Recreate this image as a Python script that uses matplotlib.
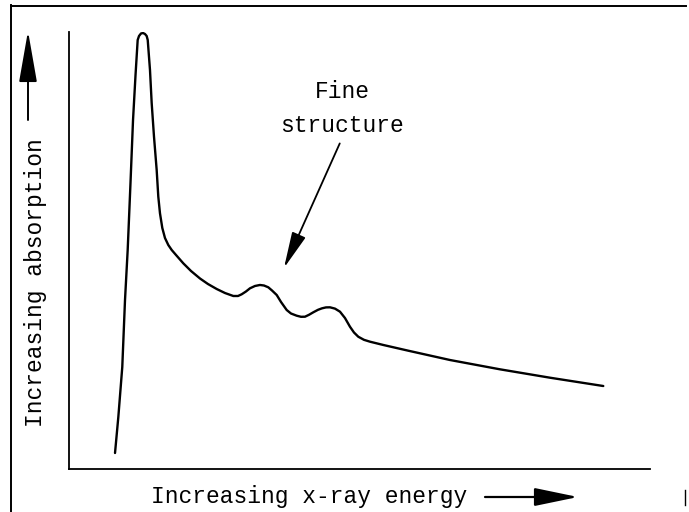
import matplotlib
matplotlib.use("Agg")
import matplotlib.pyplot as plt
from matplotlib.lines import Line2D
from matplotlib.patches import FancyArrowPatch

# ---- data (arbitrary units: energy 0-100, absorption 0-100) ----
energy = [7.92, 8.49, 9.17, 9.64, 10.10, 10.57, 11.02, 11.45, 11.82, 12.05, 12.39,
          12.74, 13.08, 13.37, 13.55, 13.94, 14.23, 14.63, 15.09, 15.37, 15.66,
          16.06, 16.52, 17.09, 17.68, 18.42, 19.67, 21.00, 22.55, 23.92, 25.42,
          26.85, 28.28, 29.09, 29.72, 30.46, 31.15, 32.01, 32.87, 33.56, 34.30,
          34.94, 35.75, 36.49, 37.47, 38.21, 39.19, 39.93, 40.62, 41.31, 42.05,
          42.86, 43.55, 44.23, 44.92, 45.78, 46.64, 47.50, 48.36, 49.05, 49.79,
          50.77, 51.81, 54.10, 58.40, 65.58, 74.18, 82.79, 91.96]
absorption = [3.66, 11.90, 23.34, 38.67, 50.11, 64.99, 79.86, 90.16, 98.17, 99.08,
              99.66, 99.77, 99.54, 99.08, 98.17, 91.30, 83.75, 76.04, 68.42, 62.31,
              58.51, 55.15, 52.86, 51.26, 50.11, 48.97, 47.07, 45.31, 43.59, 42.33,
              41.19, 40.27, 39.59, 39.59, 39.98, 40.62, 41.35, 41.88, 42.11, 41.99,
              41.58, 40.85, 39.82, 38.22, 36.38, 35.58, 35.08, 34.83, 34.85, 35.29,
              35.86, 36.43, 36.77, 36.98, 37.00, 36.70, 36.00, 34.55, 32.56, 31.24,
              30.27, 29.56, 29.13, 28.38, 27.07, 24.94, 22.81, 20.89, 18.99]

xlabel = "Increasing x-ray energy"
ylabel = "Increasing absorption"
annot_lines = ["Fine", "structure"]
annot_point = (37.0, 46.0)   # where the arrow points (energy, absorption)
annot_from = (46.6, 74.5)

W, H = 689, 512
fig = plt.figure(figsize=(W / 100, H / 100), dpi=100)
fig.patch.set_facecolor("white")

font = "Liberation Mono"
fs = 16.5

ax = fig.add_axes([69 / W, (H - 469) / H, (650 - 69) / W, (469 - 32) / H])
ax.plot(energy, absorption, color="black", lw=1.7, solid_joinstyle="round",
        solid_capstyle="round")
ax.set_xlim(0, 100)
ax.set_ylim(0, 100)
ax.set_xticks([])
ax.set_yticks([])
for s in ("top", "right"):
    ax.spines[s].set_visible(False)
for s in ("left", "bottom"):
    ax.spines[s].set_linewidth(1.3)
    ax.spines[s].set_color("black")

# annotation "Fine structure"
ax.annotate("", xy=annot_point, xytext=annot_from,
            arrowprops=dict(arrowstyle="-|>,head_length=1.4,head_width=0.28",
                            mutation_scale=16, lw=1.3, color="black",
                            shrinkA=0, shrinkB=0))
fig.text(342 / W, 1 - 91 / H, annot_lines[0], family=font, fontsize=fs,
         ha="center", va="center")
fig.text(342 / W, 1 - 125 / H, annot_lines[1], family=font, fontsize=fs,
         ha="center", va="center")

# axis labels
fig.text(309 / W, 1 - 496 / H, xlabel, family=font, fontsize=fs,
         ha="center", va="center")
fig.text(36 / W, 1 - 283 / H, ylabel, family=font, fontsize=fs,
         ha="center", va="center", rotation=90)

# label arrows
fig.add_artist(FancyArrowPatch(
    (485 / W, 1 - 497 / H), (578 / W, 1 - 497 / H), transform=fig.transFigure,
    arrowstyle="-|>,head_length=1.35,head_width=0.28", mutation_scale=20,
    lw=1.6, color="black", shrinkA=0, shrinkB=0))
fig.add_artist(FancyArrowPatch(
    (28 / W, 1 - 120 / H), (28 / W, 1 - 31 / H), transform=fig.transFigure,
    arrowstyle="-|>,head_length=1.6,head_width=0.28", mutation_scale=20,
    lw=1.4, color="black", shrinkA=0, shrinkB=0))

# outer frame of the scanned figure
fig.add_artist(Line2D([11 / W, 11 / W], [0, 1 - 5 / H], transform=fig.transFigure,
                      color="black", lw=1.4))
fig.add_artist(Line2D([11 / W, 686 / W], [1 - 6 / H, 1 - 6 / H], transform=fig.transFigure,
                      color="black", lw=1.4))
fig.add_artist(Line2D([685 / W, 685 / W], [1 - 490 / H, 1 - 505 / H], transform=fig.transFigure,
                      color="black", lw=1.0))

fig.savefig("out.png", dpi=100, facecolor="white")
